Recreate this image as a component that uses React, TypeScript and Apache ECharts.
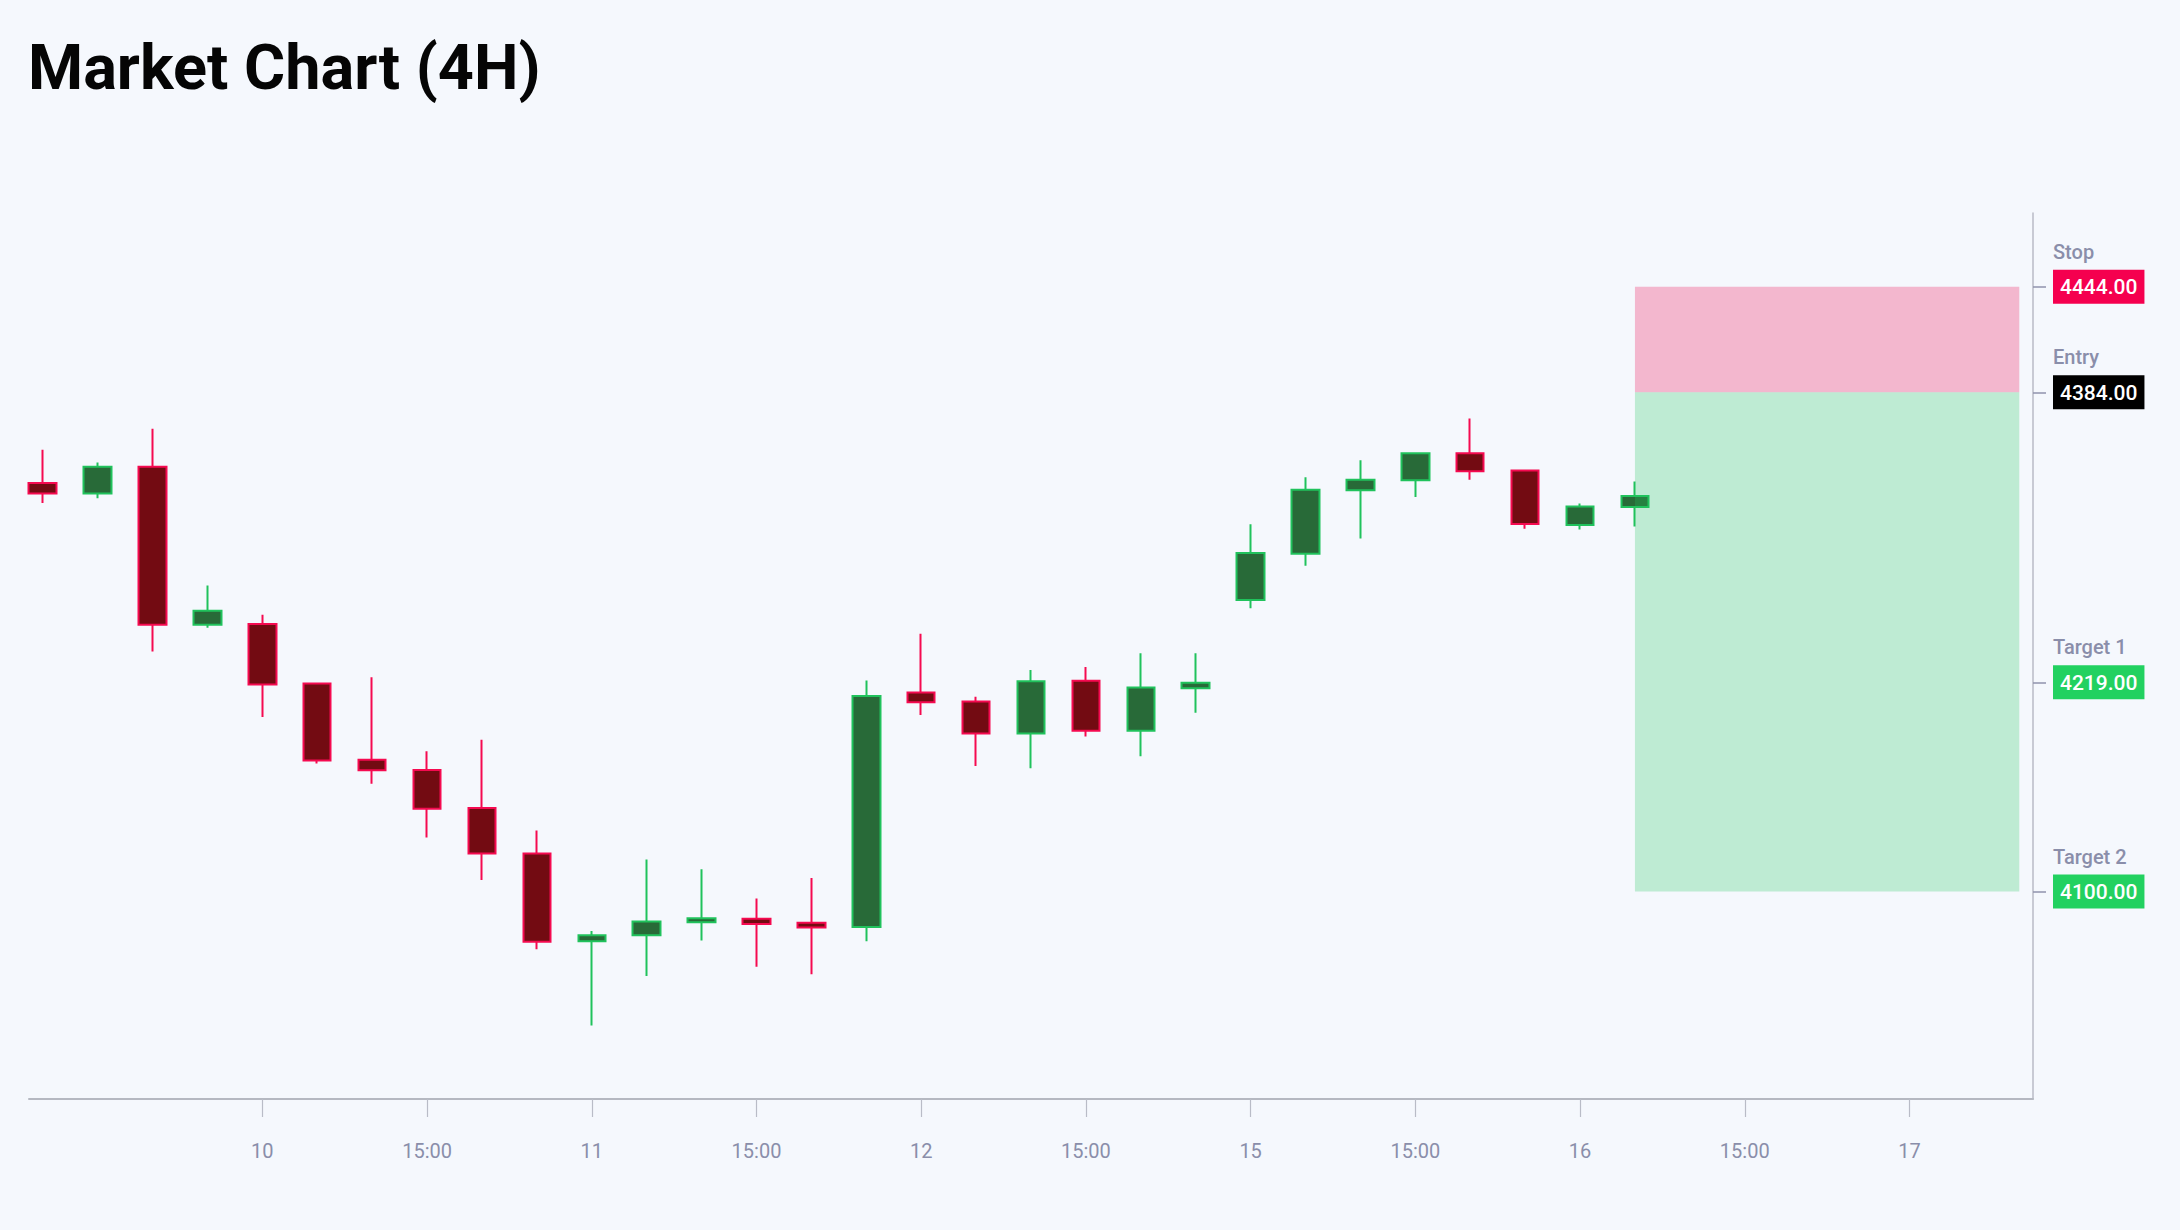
import React, { useEffect, useRef } from "react";
import * as echarts from "echarts";

// ---- Data ----
const candleIndex = [
  0, 1, 2, 3, 4, 5, 6, 7, 8, 9, 10, 11, 12, 13, 14, 15, 16, 17, 18, 19, 20, 21, 22, 23, 24, 25, 26, 27, 28, 29,
];
const opens = [
  4332.4, 4326.5, 4341.6, 4251.8, 4252.2, 4218.3, 4175.0, 4169.2, 4147.6, 4121.7,
  4071.7, 4075.1, 4082.5, 4084.5, 4082.3, 4079.8, 4213.3, 4208.1, 4189.9, 4219.9,
  4191.5, 4215.6, 4265.8, 4292.2, 4328.3, 4334.0, 4349.3, 4339.5, 4308.5, 4318.8,
];
const closes = [
  4326.5, 4341.6, 4251.8, 4259.7, 4217.8, 4174.6, 4169.0, 4147.1, 4121.7, 4071.5,
  4075.1, 4083.0, 4084.8, 4081.6, 4079.6, 4211.3, 4207.7, 4189.9, 4219.6, 4191.5,
  4216.1, 4218.8, 4292.6, 4328.6, 4334.3, 4349.3, 4339.1, 4309.1, 4319.0, 4325.0,
];
const lows = [
  4321.1, 4323.8, 4236.5, 4250.0, 4199.3, 4172.8, 4161.3, 4130.7, 4106.6, 4067.2,
  4023.8, 4051.9, 4072.2, 4057.3, 4053.0, 4071.7, 4200.5, 4171.4, 4170.1, 4188.2,
  4177.0, 4201.7, 4261.1, 4285.4, 4300.8, 4324.5, 4334.3, 4306.4, 4305.9, 4307.6,
];
const highs = [
  4351.3, 4344.1, 4363.2, 4274.1, 4257.4, 4218.9, 4221.9, 4179.8, 4186.3, 4134.7,
  4077.6, 4118.3, 4112.7, 4096.0, 4107.7, 4220.1, 4246.6, 4210.8, 4226.1, 4227.7,
  4235.5, 4235.5, 4308.9, 4335.7, 4345.3, 4349.5, 4369.1, 4339.7, 4320.7, 4333.2,
];

const xTickPositions = [4, 7, 10, 13, 16, 19, 22, 25, 28, 31, 34];
const xTickLabels = ["10", "15:00", "11", "15:00", "12", "15:00", "15", "15:00", "16", "15:00", "17"];

const levelNames = ["Stop", "Entry", "Target 1", "Target 2"];
const levelValues = [4444, 4384, 4219, 4100];

const zoneStart = 29;
const zoneEnd = 36;

const xMin = -0.25;
const xMax = 36.25;
const yMin = 3982;
const yMax = 4486;

// ---- Styles ----
const levelBoxColors = ["#f5004f", "#000000", "#22d160", "#22d160"];
const UP_FILL = "#286a38";
const UP_BORDER = "#20c25c";
const DOWN_FILL = "#730b12";
const DOWN_BORDER = "#f50a50";
const FONT = "Roboto";

export default function App() {
  const ref = useRef<HTMLDivElement>(null);

  useEffect(() => {
    if (!ref.current) return;
    const chart = echarts.init(ref.current, undefined, { renderer: "svg" });

    const candleData = candleIndex.map((x, i) => [x, opens[i], closes[i], lows[i], highs[i]]);

    const rich: Record<string, any> = {
      n: {
        fontFamily: FONT,
        fontSize: 20,
        lineHeight: 46,
        color: "#8a8eaa",
        fontWeight: 500,
      },
    };
    levelBoxColors.forEach((c, i) => {
      rich["b" + i] = {
        fontFamily: FONT,
        fontSize: 21,
        fontWeight: 500,
        lineHeight: 24,
        color: "#ffffff",
        backgroundColor: c,
        padding: [7, 7, 6, 7],
      };
    });

    const option: any = {
      animation: false,
      backgroundColor: "#f5f8fd",
      title: {
        text: "Market Chart (4H)",
        left: 23,
        top: 31,
        textStyle: {
          fontFamily: FONT,
          fontWeight: "bold",
          fontSize: 63,
          color: "#050505",
        },
      },
      grid: {
        left: 29,
        right: 147,
        top: 213,
        bottom: 131,
        containLabel: false,
      },
      xAxis: {
        type: "value",
        min: xMin,
        max: xMax,
        splitLine: { show: false },
        axisLine: { show: true, onZero: false, lineStyle: { color: "#b5b8c1", width: 2 } },
        axisTick: {
          show: true,
          customValues: xTickPositions,
          length: 18,
          lineStyle: { color: "#b9bcc7", width: 1.2 },
        },
        axisLabel: {
          customValues: xTickPositions,
          margin: 42,
          fontFamily: FONT,
          fontSize: 20,
          color: "#8a8eaa",
          formatter: (v: number) => {
            const i = xTickPositions.indexOf(Math.round(v));
            return i >= 0 ? xTickLabels[i] : "";
          },
        },
      },
      yAxis: {
        type: "value",
        position: "right",
        min: yMin,
        max: yMax,
        scale: true,
        splitLine: { show: false },
        axisLine: { show: true, onZero: false, lineStyle: { color: "#b8bbc6", width: 1.5 } },
        axisTick: {
          show: true,
          customValues: levelValues,
          length: 13,
          lineStyle: { color: "#8f93ad", width: 1.5 },
        },
        axisLabel: {
          customValues: levelValues,
          margin: 20,
          align: "left",
          verticalAlign: "middle",
          formatter: (v: number) => {
            const i = levelValues.indexOf(Math.round(v));
            if (i < 0) return "";
            return `{n|${levelNames[i]}}\n{b${i}|${levelValues[i].toFixed(2)}}\n{n| }`;
          },
          rich,
        },
      },
      series: [
        {
          type: "candlestick",
          data: candleData,
          encode: { x: 0, y: [1, 2, 3, 4] },
          barWidth: 28,
          itemStyle: {
            color: UP_FILL,
            color0: DOWN_FILL,
            borderColor: UP_BORDER,
            borderColor0: DOWN_BORDER,
            borderWidth: 2,
          },
          markArea: {
            silent: true,
            z: 5,
            data: [
              [
                { coord: [zoneStart, levelValues[0]], itemStyle: { color: "rgba(242, 8, 80, 0.27)" } },
                { coord: [zoneEnd, levelValues[1]] },
              ],
              [
                { coord: [zoneStart, levelValues[1]], itemStyle: { color: "rgba(34, 197, 94, 0.26)" } },
                { coord: [zoneEnd, levelValues[3]] },
              ],
            ],
          },
        },
      ],
    };

    chart.setOption(option);
    return () => chart.dispose();
  }, []);

  return (
    <div
      ref={ref}
      style={{ position: "fixed", left: 0, top: 0, width: 2180, height: 1230 }}
    />
  );
}
